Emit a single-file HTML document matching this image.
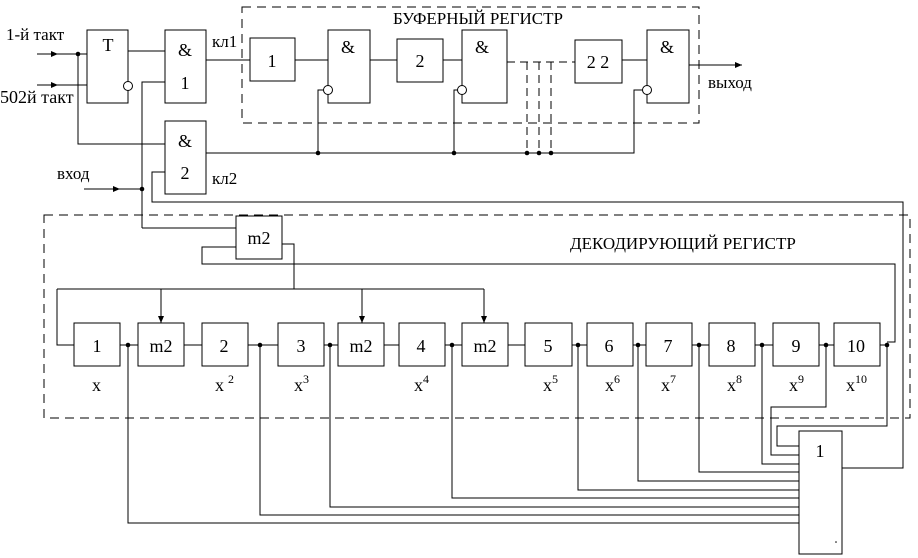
<!DOCTYPE html>
<html><head><meta charset="utf-8"><style>
html,body{margin:0;padding:0;background:#fff}
svg{display:block}
text{font-family:"Liberation Serif",serif;fill:#000}
</style></head><body>
<svg width="918" height="558" viewBox="0 0 918 558" xmlns="http://www.w3.org/2000/svg">
<defs><marker id="a" markerWidth="8" markerHeight="8" refX="7" refY="3" orient="auto" markerUnits="userSpaceOnUse"><path d="M0,0 L7,3 L0,6 z" fill="#000"/></marker></defs>
<g fill="none" stroke="#000" stroke-width="1">
<rect x="242" y="7" width="457" height="116" stroke-dasharray="9,6"/>
<rect x="44" y="215" width="866" height="203" stroke-dasharray="9,6"/>
<rect x="87" y="30" width="41" height="73" fill="#fff"/>
<rect x="165" y="30" width="41" height="73"/>
<rect x="165" y="121" width="41" height="73"/>
<rect x="250" y="38" width="45" height="43"/>
<rect x="328" y="30" width="42" height="73"/>
<rect x="397" y="39" width="46" height="43"/>
<rect x="462" y="30" width="45" height="73"/>
<rect x="575" y="40" width="47" height="43"/>
<rect x="647" y="30" width="42" height="73"/>
<circle cx="128" cy="86" r="4.5" fill="#fff"/>
<circle cx="328" cy="90" r="4.5" fill="#fff"/>
<circle cx="462" cy="90" r="4.5" fill="#fff"/>
<circle cx="647" cy="90" r="4.5" fill="#fff"/>
<path d="M37,54 H87 M37,85 H87 M78,54 V144 H165 M128,51 H165 M142,228 V82 H165 M84,189 H142"/>
<path d="M37,54 H58" marker-end="url(#a)"/><path d="M37,85 H58" marker-end="url(#a)"/><path d="M84,189 H120" marker-end="url(#a)"/>
<path d="M206,60 H250 M295,60 H328 M370,60 H397 M443,60 H462 M622,60 H647"/>
<path d="M507,62 H575 M527,62 V153 M539,62 V153 M551,62 V153" stroke-dasharray="8,5"/>
<path d="M689,65 H742" marker-end="url(#a)"/>
<path d="M206,153 H634 V90 H643 M318,153 V90 H324 M454,153 V90 H458"/>
<path d="M165,172 H152 V202 H903 V468 H842"/>
<rect x="236" y="216" width="46" height="43"/>
<path d="M142,228 H236 M282,244 H294 V289 M236,247 H202 V264 H895 V342 H887"/>
<path d="M57,289 H484 M57,289 V345 H74"/>
<path d="M161,289 V323" marker-end="url(#a)"/><path d="M362,289 V323" marker-end="url(#a)"/><path d="M484,289 V323" marker-end="url(#a)"/>
<rect x="74" y="323" width="46" height="43"/><rect x="138" y="323" width="46" height="43"/>
<rect x="202" y="323" width="46" height="43"/><rect x="278" y="323" width="46" height="43"/>
<rect x="338" y="323" width="46" height="43"/><rect x="399" y="323" width="46" height="43"/>
<rect x="462" y="323" width="46" height="43"/><rect x="525" y="323" width="47" height="43"/>
<rect x="587" y="323" width="46" height="43"/><rect x="646" y="323" width="46" height="43"/>
<rect x="709" y="323" width="46" height="43"/><rect x="773" y="323" width="46" height="43"/>
<rect x="834" y="323" width="46" height="43"/>
<path d="M120,345 H138 M184,345 H202 M248,345 H278 M324,345 H338 M384,345 H399 M445,345 H462 M508,345 H525 M572,345 H587 M633,345 H646 M692,345 H709 M755,345 H773 M819,345 H834 M880,345 H887"/>
<rect x="799" y="431" width="43" height="123"/>
<path d="M887,345 V426 H777 V446 H799 M826,345 V407 H771 V455 H799 M762,345 V464 H799 M699,345 V472 H799 M638,345 V481 H799 M578,345 V490 H799 M452,345 V498 H799 M330,345 V507 H799 M260,345 V515 H799 M128,345 V523 H799"/>
</g>
<g fill="#000">
<circle cx="78" cy="54" r="2.3"/><circle cx="142" cy="189" r="2.3"/>
<circle cx="318" cy="153" r="2.3"/><circle cx="454" cy="153" r="2.3"/><circle cx="527" cy="153" r="2.3"/><circle cx="539" cy="153" r="2.3"/><circle cx="551" cy="153" r="2.3"/>
<circle cx="128" cy="345" r="2.3"/><circle cx="260" cy="345" r="2.3"/><circle cx="330" cy="345" r="2.3"/><circle cx="452" cy="345" r="2.3"/><circle cx="578" cy="345" r="2.3"/><circle cx="638" cy="345" r="2.3"/><circle cx="699" cy="345" r="2.3"/><circle cx="762" cy="345" r="2.3"/><circle cx="826" cy="345" r="2.3"/><circle cx="887" cy="345" r="2.3"/>
<circle cx="836" cy="542" r="0.8"/>
</g>
<g font-size="17">
<text x="6" y="40">1-й такт</text>
<text x="0" y="103" font-size="18">502й такт</text>
<text x="57" y="179">вход</text>
<text x="212" y="47">кл1</text>
<text x="212" y="184">кл2</text>
<text x="708" y="88">выход</text>
<text x="393" y="24">БУФЕРНЫЙ РЕГИСТР</text>
<text x="570" y="249">ДЕКОДИРУЮЩИЙ РЕГИСТР</text>
</g>
<g font-size="18" text-anchor="middle">
<text x="108" y="51">T</text>
<text x="185" y="56">&amp;</text><text x="185" y="89">1</text>
<text x="185" y="147">&amp;</text><text x="185" y="179">2</text>
<text x="272" y="67">1</text>
<text x="348" y="53">&amp;</text>
<text x="420" y="67">2</text>
<text x="482" y="53">&amp;</text>
<text x="598" y="68">2 2</text>
<text x="667" y="53">&amp;</text>
<text x="259" y="244">m2</text>
<text x="97" y="352">1</text><text x="161" y="352">m2</text><text x="224" y="352">2</text>
<text x="301" y="352">3</text><text x="361" y="352">m2</text><text x="421" y="352">4</text>
<text x="485" y="352">m2</text><text x="548" y="352">5</text><text x="609" y="352">6</text>
<text x="668" y="352">7</text><text x="731" y="352">8</text><text x="796" y="352">9</text>
<text x="856" y="352">10</text>
<text x="820" y="457">1</text>
</g>
<g font-size="18">
<text x="92" y="391">x</text>
<text x="215" y="391">x<tspan font-size="12" dy="-8" dx="4">2</tspan></text>
<text x="294" y="391">x<tspan font-size="12" dy="-8">3</tspan></text>
<text x="414" y="391">x<tspan font-size="12" dy="-8">4</tspan></text>
<text x="543" y="391">x<tspan font-size="12" dy="-8">5</tspan></text>
<text x="605" y="391">x<tspan font-size="12" dy="-8">6</tspan></text>
<text x="661" y="391">x<tspan font-size="12" dy="-8">7</tspan></text>
<text x="727" y="391">x<tspan font-size="12" dy="-8">8</tspan></text>
<text x="789" y="391">x<tspan font-size="12" dy="-8">9</tspan></text>
<text x="846" y="391">x<tspan font-size="12" dy="-8">10</tspan></text>
</g>
</svg>
</body></html>
